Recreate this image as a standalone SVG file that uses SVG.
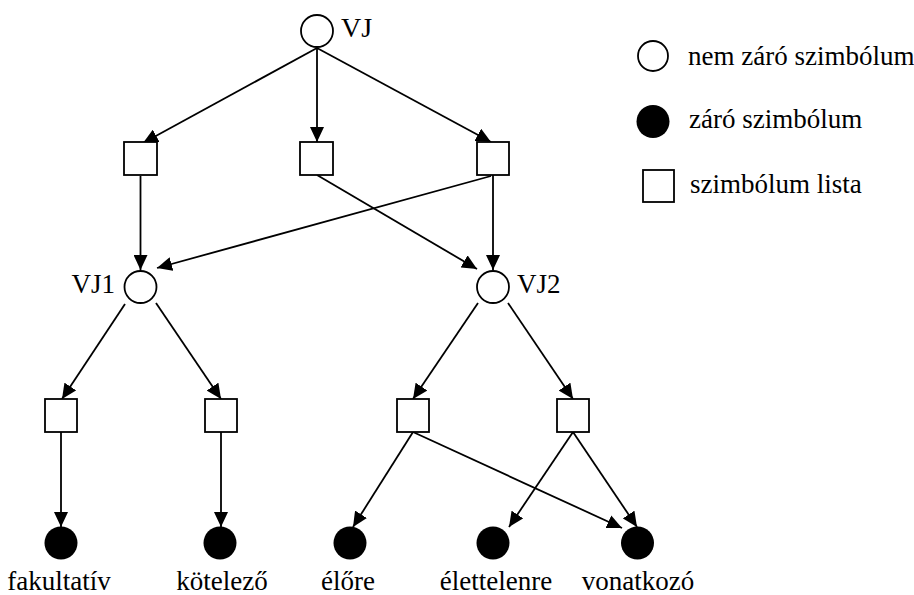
<svg xmlns="http://www.w3.org/2000/svg" width="914" height="595" viewBox="0 0 914 595">
<defs>
<marker id="ah" markerUnits="userSpaceOnUse" markerWidth="16" markerHeight="14" refX="15" refY="7" orient="auto">
<path d="M0,0 L15,7 L0,14 z" fill="#000"/>
</marker>
</defs>
<rect width="914" height="595" fill="#fff"/>
<g id="edges" stroke="#000" stroke-width="1.8" marker-end="url(#ah)">
<line x1="317" y1="48" x2="143" y2="143" marker-end="url(#ah)"/>
<line x1="317" y1="48" x2="317" y2="142" marker-end="url(#ah)"/>
<line x1="317" y1="48" x2="491" y2="142" marker-end="url(#ah)"/>
<line x1="140.5" y1="176" x2="140.5" y2="270" marker-end="url(#ah)"/>
<line x1="317" y1="175" x2="477" y2="269" marker-end="url(#ah)"/>
<line x1="493" y1="175" x2="493" y2="270" marker-end="url(#ah)"/>
<line x1="491" y1="176" x2="157" y2="268" marker-end="url(#ah)"/>
<line x1="125" y1="304" x2="62" y2="399" marker-end="url(#ah)"/>
<line x1="156" y1="303" x2="221" y2="399" marker-end="url(#ah)"/>
<line x1="478" y1="303" x2="413" y2="399" marker-end="url(#ah)"/>
<line x1="508" y1="303" x2="573" y2="399" marker-end="url(#ah)"/>
<line x1="61" y1="432" x2="61" y2="527" marker-end="url(#ah)"/>
<line x1="221" y1="432" x2="221" y2="527" marker-end="url(#ah)"/>
<line x1="413" y1="432" x2="353" y2="527" marker-end="url(#ah)"/>
<line x1="413" y1="432" x2="622" y2="528" marker-end="url(#ah)"/>
<line x1="573" y1="432" x2="509" y2="527" marker-end="url(#ah)"/>
<line x1="573" y1="432" x2="637" y2="527" marker-end="url(#ah)"/>
</g>
<g font-family="Liberation Serif" font-size="27" fill="#000">
<g id="VJ"><circle cx="317" cy="31" r="16" fill="#fff" stroke="#000" stroke-width="1.8"/><text x="341" y="37" font-size="28">VJ</text></g>
<g id="L1"><rect x="124" y="142" width="33" height="33" fill="#fff" stroke="#000" stroke-width="1.8"/></g>
<g id="L2"><rect x="300" y="142" width="33" height="33" fill="#fff" stroke="#000" stroke-width="1.8"/></g>
<g id="L3"><rect x="477" y="142" width="32" height="33" fill="#fff" stroke="#000" stroke-width="1.8"/></g>
<g id="VJ1"><circle cx="140.5" cy="287" r="16" fill="#fff" stroke="#000" stroke-width="1.8"/><text x="115" y="293" text-anchor="end">VJ1</text></g>
<g id="VJ2"><circle cx="493" cy="287" r="16" fill="#fff" stroke="#000" stroke-width="1.8"/><text x="517" y="293">VJ2</text></g>
<g id="L4"><rect x="45" y="399" width="32" height="33" fill="#fff" stroke="#000" stroke-width="1.8"/></g>
<g id="L5"><rect x="205" y="399" width="32" height="33" fill="#fff" stroke="#000" stroke-width="1.8"/></g>
<g id="L6"><rect x="397" y="399" width="32" height="33" fill="#fff" stroke="#000" stroke-width="1.8"/></g>
<g id="L7"><rect x="557" y="399" width="32" height="33" fill="#fff" stroke="#000" stroke-width="1.8"/></g>
<g id="fakultativ"><circle cx="61" cy="543" r="16.5"/><text x="59" y="590" text-anchor="middle">fakultatív</text></g>
<g id="kotelezo"><circle cx="220" cy="543" r="16.5"/><text x="222" y="590" text-anchor="middle">kötelező</text></g>
<g id="elore"><circle cx="350" cy="543" r="16.5"/><text x="348" y="590" text-anchor="middle">élőre</text></g>
<g id="elettelenre"><circle cx="493" cy="543" r="16.5"/><text x="496" y="590" text-anchor="middle">élettelenre</text></g>
<g id="vonatkozo"><circle cx="637.5" cy="543" r="16.5"/><text x="638" y="590" text-anchor="middle">vonatkozó</text></g>
<g id="legend">
<circle cx="653" cy="56" r="15" fill="#fff" stroke="#000" stroke-width="1.8"/><text x="688" y="65">nem záró szimbólum</text>
<circle cx="653" cy="121.5" r="16.5"/><text x="689" y="128">záró szimbólum</text>
<rect x="643" y="170" width="31" height="32" fill="#fff" stroke="#000" stroke-width="1.8"/><text x="690" y="193">szimbólum lista</text>
</g>
</g>
</svg>
